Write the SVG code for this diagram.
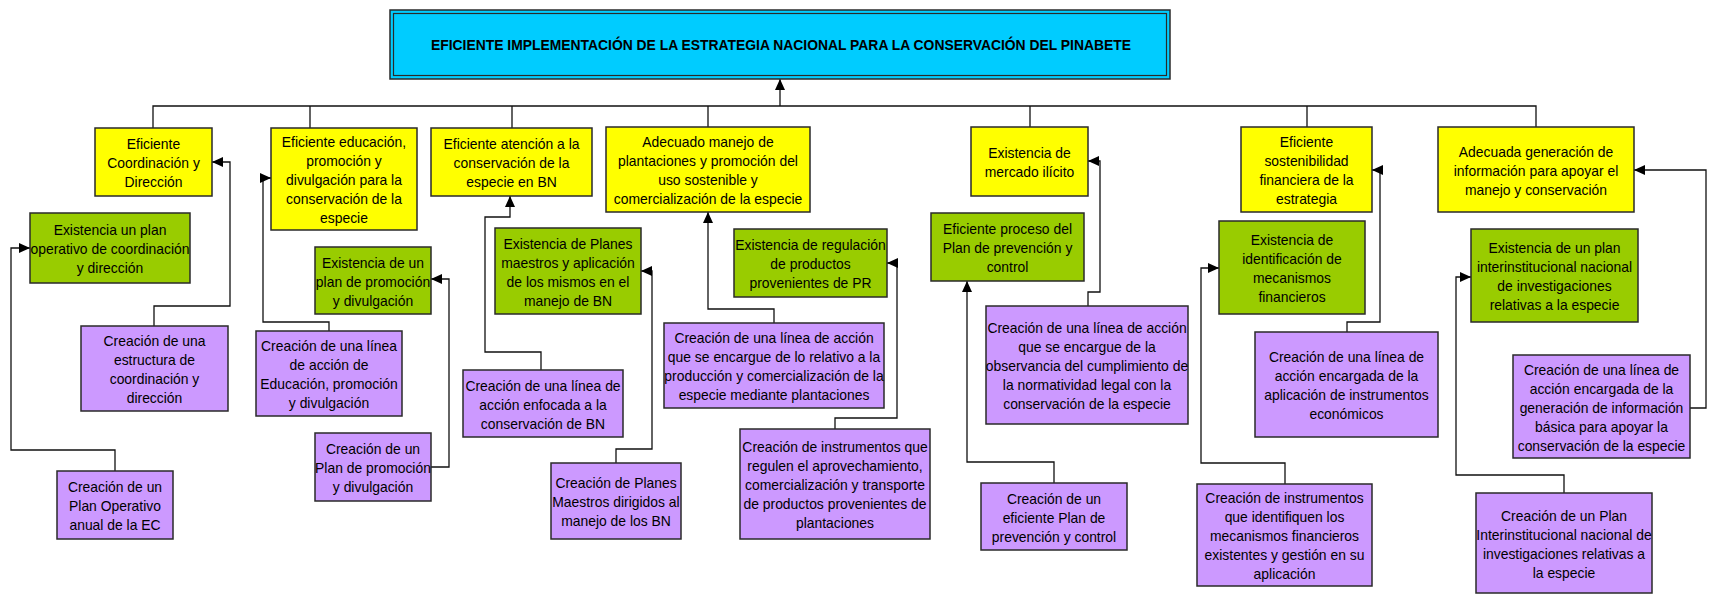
<svg xmlns="http://www.w3.org/2000/svg" width="1714" height="595" viewBox="0 0 1714 595">
<style>
.box{stroke:#2a2a2a;stroke-width:1.5}
.y{fill:#FFFF00}
.g{fill:#99CC00}
.p{fill:#CC99FF}
.t{font-family:"Liberation Sans",Arial,sans-serif;font-size:13.9px;fill:#000;text-anchor:middle}
.c{fill:none;stroke:#111;stroke-width:1.3}
.a{marker-end:url(#arr)}
</style>
<defs>
<marker id="arr" markerUnits="userSpaceOnUse" markerWidth="11" markerHeight="10" refX="11" refY="5" orient="auto">
<path d="M0,0 L11,5 L0,10 Z" fill="#000"/>
</marker>
</defs>
<rect width="1714" height="595" fill="#fff"/>
<g id="connectors">
<path class="c" d="M153,128 V106 H1536 V127 M310,106 V128 M512,106 V128 M708,106 V127 M1030,106 V127 M1307,106 V127"/>
<path class="c a" d="M780,106 V79"/>
<path class="c a" d="M154,326 V306 H230 V162 H212"/>
<path class="c a" d="M115,471 V450 H11 V248 H30"/>
<path class="c a" d="M329,331 V322 H263 V178 H271"/>
<path class="c a" d="M431,467 H449 V279 H431"/>
<path class="c a" d="M541,370 V352 H485 V217 H510 V196"/>
<path class="c a" d="M616,463 V449 H652 V271 H641"/>
<path class="c a" d="M774,323 V309 H708 V212"/>
<path class="c a" d="M835,429 V418 H897 V263 H887"/>
<path class="c a" d="M1088,306 V292 H1100 V161 H1088"/>
<path class="c a" d="M1054,483 V462 H967 V281"/>
<path class="c a" d="M1347,332 V322 H1380 V170 H1372"/>
<path class="c a" d="M1285,484 V463 H1201 V268 H1219"/>
<path class="c a" d="M1690,408 H1706 V170 H1634"/>
<path class="c a" d="M1564,493 V475 H1456 V277 H1471"/>
</g>
<g id="title">
<rect x="390" y="10" width="780" height="69" fill="#00CCFF" stroke="#2a2a2a" stroke-width="1.5"/>
<rect x="393.5" y="13.5" width="773" height="62" fill="none" stroke="#2a2a2a" stroke-width="1.2"/>
<text x="781" y="50" font-family="'Liberation Sans',Arial,sans-serif" font-size="15" font-weight="bold" text-anchor="middle" textLength="700" lengthAdjust="spacingAndGlyphs">EFICIENTE IMPLEMENTACIÓN DE LA ESTRATEGIA NACIONAL PARA LA CONSERVACIÓN DEL PINABETE</text>
</g>
<g id="y1"><rect class="box y" x="95" y="128" width="117" height="68"/><text class="t"><tspan x="153.5" y="149">Eficiente</tspan><tspan x="153.5" y="168">Coordinación y</tspan><tspan x="153.5" y="187">Dirección</tspan></text></g>
<g id="y2"><rect class="box y" x="271" y="128" width="146" height="102"/><text class="t"><tspan x="344" y="147">Eficiente educación,</tspan><tspan x="344" y="166">promoción y</tspan><tspan x="344" y="185">divulgación para la</tspan><tspan x="344" y="204">conservación de la</tspan><tspan x="344" y="223">especie</tspan></text></g>
<g id="y3"><rect class="box y" x="431" y="128" width="161" height="68"/><text class="t"><tspan x="511.5" y="149">Eficiente atención a la</tspan><tspan x="511.5" y="168">conservación de la</tspan><tspan x="511.5" y="187">especie en BN</tspan></text></g>
<g id="y4"><rect class="box y" x="606" y="127" width="204" height="85"/><text class="t"><tspan x="708" y="147">Adecuado manejo de</tspan><tspan x="708" y="166">plantaciones y promoción del</tspan><tspan x="708" y="185">uso sostenible y</tspan><tspan x="708" y="204">comercialización de la especie</tspan></text></g>
<g id="y5"><rect class="box y" x="971" y="127" width="117" height="69"/><text class="t"><tspan x="1029.5" y="158">Existencia de</tspan><tspan x="1029.5" y="177">mercado ilícito</tspan></text></g>
<g id="y6"><rect class="box y" x="1241" y="127" width="131" height="85"/><text class="t"><tspan x="1306.5" y="147">Eficiente</tspan><tspan x="1306.5" y="166">sostenibilidad</tspan><tspan x="1306.5" y="185">financiera de la</tspan><tspan x="1306.5" y="204">estrategia</tspan></text></g>
<g id="y7"><rect class="box y" x="1438" y="127" width="196" height="85"/><text class="t"><tspan x="1536" y="157">Adecuada generación de</tspan><tspan x="1536" y="176">información para apoyar el</tspan><tspan x="1536" y="195">manejo y conservación</tspan></text></g>
<g id="g1"><rect class="box g" x="30" y="213" width="160" height="70"/><text class="t"><tspan x="110" y="235">Existencia un plan</tspan><tspan x="110" y="254">operativo de coordinación</tspan><tspan x="110" y="273">y dirección</tspan></text></g>
<g id="g2"><rect class="box g" x="315" y="247" width="116" height="67"/><text class="t"><tspan x="373" y="267.5">Existencia de un</tspan><tspan x="373" y="286.5">plan de promoción</tspan><tspan x="373" y="305.5">y divulgación</tspan></text></g>
<g id="g3"><rect class="box g" x="495" y="228" width="146" height="86"/><text class="t"><tspan x="568" y="248.5">Existencia de Planes</tspan><tspan x="568" y="267.5">maestros y aplicación</tspan><tspan x="568" y="286.5">de los mismos en el</tspan><tspan x="568" y="305.5">manejo de BN</tspan></text></g>
<g id="g4"><rect class="box g" x="734" y="229" width="153" height="68"/><text class="t"><tspan x="810.5" y="250">Existencia de regulación</tspan><tspan x="810.5" y="269">de productos</tspan><tspan x="810.5" y="288">provenientes de PR</tspan></text></g>
<g id="g5"><rect class="box g" x="931" y="213" width="153" height="68"/><text class="t"><tspan x="1007.5" y="234">Eficiente proceso del</tspan><tspan x="1007.5" y="253">Plan de prevención y</tspan><tspan x="1007.5" y="272">control</tspan></text></g>
<g id="g6"><rect class="box g" x="1219" y="221" width="146" height="93"/><text class="t"><tspan x="1292" y="245">Existencia de</tspan><tspan x="1292" y="264">identificación de</tspan><tspan x="1292" y="283">mecanismos</tspan><tspan x="1292" y="302">financieros</tspan></text></g>
<g id="g7"><rect class="box g" x="1471" y="229" width="167" height="93"/><text class="t"><tspan x="1554.5" y="253">Existencia de un plan</tspan><tspan x="1554.5" y="272">interinstitucional nacional</tspan><tspan x="1554.5" y="291">de investigaciones</tspan><tspan x="1554.5" y="310">relativas a la especie</tspan></text></g>
<g id="p1a"><rect class="box p" x="81" y="326" width="147" height="85"/><text class="t"><tspan x="154.5" y="346">Creación de una</tspan><tspan x="154.5" y="365">estructura de</tspan><tspan x="154.5" y="384">coordinación y</tspan><tspan x="154.5" y="403">dirección</tspan></text></g>
<g id="p1b"><rect class="box p" x="57" y="471" width="116" height="68"/><text class="t"><tspan x="115" y="492">Creación de un</tspan><tspan x="115" y="511">Plan Operativo</tspan><tspan x="115" y="530">anual de la EC</tspan></text></g>
<g id="p2a"><rect class="box p" x="256" y="331" width="146" height="85"/><text class="t"><tspan x="329" y="351">Creación de una línea</tspan><tspan x="329" y="370">de acción de</tspan><tspan x="329" y="389">Educación, promoción</tspan><tspan x="329" y="408">y divulgación</tspan></text></g>
<g id="p2b"><rect class="box p" x="315" y="433" width="116" height="68"/><text class="t"><tspan x="373" y="454">Creación de un</tspan><tspan x="373" y="473">Plan de promoción</tspan><tspan x="373" y="492">y divulgación</tspan></text></g>
<g id="p3a"><rect class="box p" x="463" y="370" width="160" height="67"/><text class="t"><tspan x="543" y="390.5">Creación de una línea de</tspan><tspan x="543" y="409.5">acción enfocada a la</tspan><tspan x="543" y="428.5">conservación de BN</tspan></text></g>
<g id="p3b"><rect class="box p" x="551" y="463" width="130" height="76"/><text class="t"><tspan x="616" y="488">Creación de Planes</tspan><tspan x="616" y="507">Maestros dirigidos al</tspan><tspan x="616" y="526">manejo de los BN</tspan></text></g>
<g id="p4a"><rect class="box p" x="664" y="323" width="220" height="85"/><text class="t"><tspan x="774" y="343">Creación de una línea de acción</tspan><tspan x="774" y="362">que se encargue de lo relativo a la</tspan><tspan x="774" y="381">producción y comercialización de la</tspan><tspan x="774" y="400">especie mediante plantaciones</tspan></text></g>
<g id="p4b"><rect class="box p" x="740" y="429" width="190" height="110"/><text class="t"><tspan x="835" y="452">Creación de instrumentos que</tspan><tspan x="835" y="471">regulen el aprovechamiento,</tspan><tspan x="835" y="490">comercialización y transporte</tspan><tspan x="835" y="509">de productos provenientes de</tspan><tspan x="835" y="528">plantaciones</tspan></text></g>
<g id="p5a"><rect class="box p" x="986" y="306" width="202" height="118"/><text class="t"><tspan x="1087" y="333">Creación de una línea de acción</tspan><tspan x="1087" y="352">que se encargue de la</tspan><tspan x="1087" y="371">observancia del cumplimiento de</tspan><tspan x="1087" y="390">la normatividad legal con la</tspan><tspan x="1087" y="409">conservación de la especie</tspan></text></g>
<g id="p5b"><rect class="box p" x="981" y="483" width="146" height="67"/><text class="t"><tspan x="1054" y="503.5">Creación de un</tspan><tspan x="1054" y="522.5">eficiente Plan de</tspan><tspan x="1054" y="541.5">prevención y control</tspan></text></g>
<g id="p6a"><rect class="box p" x="1255" y="332" width="183" height="105"/><text class="t"><tspan x="1346.5" y="362">Creación de una línea de</tspan><tspan x="1346.5" y="381">acción encargada de la</tspan><tspan x="1346.5" y="400">aplicación de instrumentos</tspan><tspan x="1346.5" y="419">económicos</tspan></text></g>
<g id="p6b"><rect class="box p" x="1197" y="484" width="175" height="102"/><text class="t"><tspan x="1284.5" y="503">Creación de instrumentos</tspan><tspan x="1284.5" y="522">que identifiquen los</tspan><tspan x="1284.5" y="541">mecanismos financieros</tspan><tspan x="1284.5" y="560">existentes y gestión en su</tspan><tspan x="1284.5" y="579">aplicación</tspan></text></g>
<g id="p7a"><rect class="box p" x="1513" y="355" width="177" height="103"/><text class="t"><tspan x="1601.5" y="374.5">Creación de una línea de</tspan><tspan x="1601.5" y="393.5">acción encargada de la</tspan><tspan x="1601.5" y="412.5">generación de información</tspan><tspan x="1601.5" y="431.5">básica para apoyar la</tspan><tspan x="1601.5" y="450.5">conservación de la especie</tspan></text></g>
<g id="p7b"><rect class="box p" x="1476" y="493" width="176" height="100"/><text class="t"><tspan x="1564" y="520.5">Creación de un Plan</tspan><tspan x="1564" y="539.5">Interinstitucional nacional de</tspan><tspan x="1564" y="558.5">investigaciones relativas a</tspan><tspan x="1564" y="577.5">la especie</tspan></text></g>
</svg>
